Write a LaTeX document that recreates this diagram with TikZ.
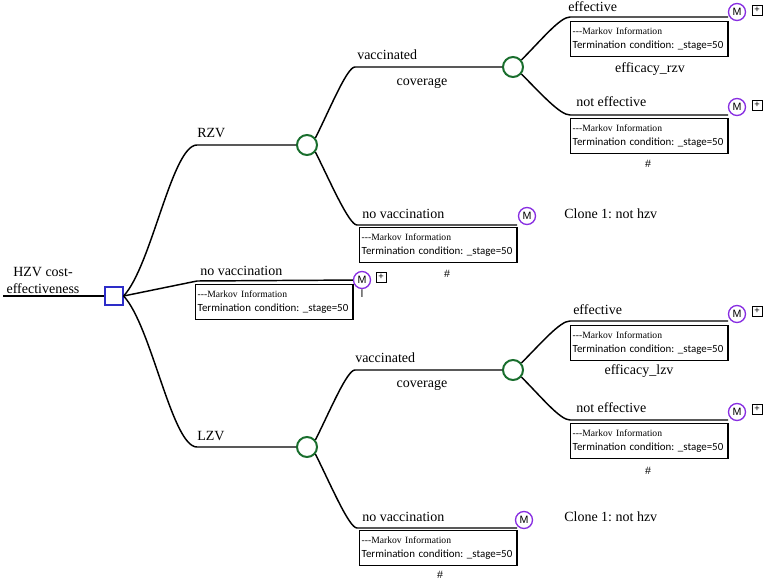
\documentclass[tikz,border=0pt]{standalone}
\usepackage{fontspec}
\setmainfont{Liberation Serif}
\setsansfont{Liberation Sans}
\newfontfamily\boxfont{Carlito}
\frenchspacing
\definecolor{decblue}{RGB}{45,45,200}
\definecolor{chgreen}{RGB}{25,110,45}
\definecolor{mviolet}{RGB}{135,45,225}
\newcommand{\markovinfo}{\mbox{\fontsize{7.2}{10}\selectfont -{}-{}-Markov Information}\\\mbox{\boxfont\fontsize{8.2}{10}\selectfont Termination condition: \_stage=50}}

\begin{document}
\begin{tikzpicture}[x=0.75pt, y=-0.75pt,
    branch/.style={line width=1.1pt},
    decision/.style={draw=decblue, line width=0.9pt, minimum size=13.5pt, inner sep=0pt},
    chance/.style={circle, draw=chgreen, line width=1.5pt, minimum size=15pt, inner sep=0pt},
    mnode/.style={circle, draw=mviolet, line width=1pt, minimum size=12.75pt, inner sep=0pt, font=\sffamily\fontsize{8}{8}\selectfont},
    plusbox/.style={draw, line width=0.5pt, minimum size=7.5pt, inner sep=0pt, font=\sffamily\fontsize{7}{7}\selectfont},
    lbl/.style={inner sep=0pt, font=\fontsize{10.5}{12.75}\selectfont},
    markov/.style={draw, line width=1pt, anchor=north west, text width=115pt, minimum height=26pt, inner xsep=1.5pt, inner ysep=1.5pt, align=left, font=\fontsize{8}{10}\selectfont},
    note/.style={inner sep=0pt, font=\sffamily\fontsize{8}{8}\selectfont}]
        \useasboundingbox (0,0) rectangle (767,581);
        % root decision
        \coordinate (start) at (3,296);
        \node[decision] (root) at (114,296) {};
        \node[lbl, align=center] (title) at (43,280) {HZV cost-\\effectiveness};
        \draw[branch] (start) -- (root);
        % first level
        \coordinate (rzvbend) at (197,145);
        \coordinate (nvbend) at (197,281);
        \coordinate (lzvbend) at (197,447);
        \node[chance] (rzv) at (307,145) {};
        \node[chance] (lzv) at (307,447) {};
        \node[mnode] (m0) at (362,280) {M};
        \node[plusbox] (p0) at (381,277) {+};
        \node[note] at (362,294) {l};
        \draw[branch] (root.east) .. controls +(28,-30) and +(-25,0) .. (rzvbend) -- (rzv);
        \draw[branch] (root.east) -- (nvbend) -- (m0);
        \draw[branch] (root.east) .. controls +(28,30) and +(-25,0) .. (lzvbend) -- (lzv);
        \node[lbl, anchor=base west] at (197,138) {RZV};
        \node[lbl, anchor=base west] at (200,275) {no vaccination};
        \node[lbl, anchor=base west] at (197,440) {LZV};
        \node[markov] (b0) at (195,284) {\markovinfo};
        % RZV
        \coordinate (rvbend) at (355,67);
        \coordinate (rnbend) at (357,225);
        \coordinate (rnend) at (517,225);
        \node[chance] (rv) at (513,67) {};
        \node[mnode] (rnm) at (527,216) {M};
        \draw[branch] (rzv.40) .. controls +(15,-30) and +(-8,0) .. (rvbend) -- (rv);
        \draw[branch] (rzv.-40) .. controls +(15,30) and +(-8,0) .. (rnbend) -- (rnend);
        \node[lbl, anchor=base west] at (357,60) {vaccinated};
        \node[lbl] at (422,83) {coverage};
        \node[lbl, anchor=base west] at (362,218) {no vaccination};
        \node[markov] (rnb) at (359,227) {\markovinfo};
        \node[note] at (447,274) {\#};
        \node[lbl, anchor=base west] at (564,218) {Clone 1: not hzv};
        % RZV vaccinated
        \coordinate (rebend) at (570,17);
        \coordinate (reend) at (728,17);
        \coordinate (rxbend) at (570,115);
        \coordinate (rxend) at (728,115);
        \node[mnode] (rem) at (737,12) {M};
        \node[plusbox] (rep) at (757,10) {+};
        \node[mnode] (rxm) at (737,107) {M};
        \node[plusbox] (rxp) at (757,105) {+};
        \draw[branch] (rv.40) .. controls +(20,-20) and +(-10,0) .. (rebend) -- (reend);
        \draw[branch] (rv.-40) .. controls +(20,20) and +(-10,0) .. (rxbend) -- (rxend);
        \node[lbl, anchor=base west] at (568,12) {effective};
        \node[markov] (reb) at (570,21) {\markovinfo};
        \node[lbl] at (650,69) {efficacy\_rzv};
        \node[lbl, anchor=base west] at (576,107) {not effective};
        \node[markov] (rxb) at (570,118) {\markovinfo};
        \node[note] at (648,164) {\#};
        % LZV
        \coordinate (lvbend) at (355,370);
        \coordinate (lnbend) at (357,528);
        \coordinate (lnend) at (517,528);
        \node[chance] (lv) at (513,370) {};
        \node[mnode] (lnm) at (524,520) {M};
        \draw[branch] (lzv.40) .. controls +(15,-30) and +(-8,0) .. (lvbend) -- (lv);
        \draw[branch] (lzv.-40) .. controls +(15,30) and +(-8,0) .. (lnbend) -- (lnend);
        \node[lbl, anchor=base west] at (355,362) {vaccinated};
        \node[lbl] at (422,385) {coverage};
        \node[lbl, anchor=base west] at (362,521) {no vaccination};
        \node[markov] (lnb) at (359,530) {\markovinfo};
        \node[note] at (440,575) {\#};
        \node[lbl, anchor=base west] at (564,521) {Clone 1: not hzv};
        % LZV vaccinated
        \coordinate (lebend) at (570,321);
        \coordinate (leend) at (728,321);
        \coordinate (lxbend) at (570,420);
        \coordinate (lxend) at (728,420);
        \node[mnode] (lem) at (737,314) {M};
        \node[plusbox] (lep) at (757,311) {+};
        \node[mnode] (lxm) at (737,412) {M};
        \node[plusbox] (lxp) at (757,409) {+};
        \draw[branch] (lv.40) .. controls +(20,-20) and +(-10,0) .. (lebend) -- (leend);
        \draw[branch] (lv.-40) .. controls +(20,20) and +(-10,0) .. (lxbend) -- (lxend);
        \node[lbl, anchor=base west] at (573,314) {effective};
        \node[markov] (leb) at (570,325) {\markovinfo};
        \node[lbl] at (639,371) {efficacy\_lzv};
        \node[lbl, anchor=base west] at (576,412) {not effective};
        \node[markov] (lxb) at (570,423) {\markovinfo};
        \node[note] at (648,471) {\#};
    \end{tikzpicture}
\end{document}
